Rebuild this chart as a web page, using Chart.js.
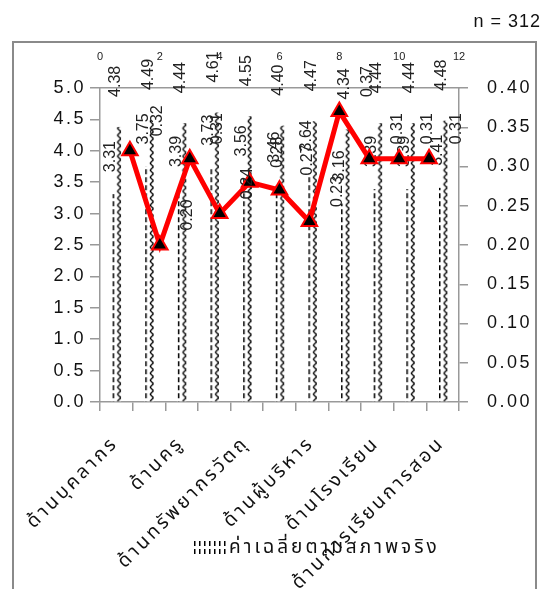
<!DOCTYPE html>
<html>
<head>
<meta charset="utf-8">
<script src="https://cdn.jsdelivr.net/npm/chart.js@4.4.1/dist/chart.umd.min.js"></script>
<style>
html,body{margin:0;padding:0;background:#fff;}
#wrap{width:553px;height:589px;position:relative;}
</style>
</head>
<body>
<div id="wrap"><canvas id="c"></canvas></div>
<script>
// ---- data ----
const categories = ['ด้านบุคลากร','', 'ด้านครู','', 'ด้านทรัพยากรวัตถุ','', 'ด้านผู้บริหาร','', 'ด้านโรงเรียน','', 'ด้านการเรียนการสอน'];
const actualMeans   = [3.31, 3.75, 3.39, 3.73, 3.56, 3.46, 3.64, 3.16, 3.39, 3.39, 3.41];
const expectedMeans = [4.38, 4.49, 4.44, 4.61, 4.55, 4.40, 4.47, 4.34, 4.44, 4.44, 4.48];
const pniValues     = [0.32, 0.20, 0.31, 0.24, 0.28, 0.27, 0.23, 0.37, 0.31, 0.31, 0.31];
const pniPositions  = [1, 2, 3, 4, 5, 6, 7, 8, 9, 10, 11];
const legendLabel = 'ค่าเฉลี่ยตามสภาพจริง';
const noteText = 'n = 312';

const THAI = "'Noto Sans Thai','Noto Sans Thai Looped','Noto Sans','DejaVu Sans',sans-serif";
const NUM = "'Liberation Sans','DejaVu Sans',sans-serif";

function dashPattern(){
  const c=document.createElement('canvas'); c.width=5; c.height=8;
  const g=c.getContext('2d'); g.fillStyle='#fff'; g.fillRect(0,0,5,8);
  g.fillStyle='#000'; g.fillRect(1,0,1.5,5);
  return g.createPattern(c,'repeat');
}
function crossPattern(){
  const c=document.createElement('canvas'); c.width=9; c.height=7;
  const g=c.getContext('2d'); g.fillStyle='#fff'; g.fillRect(0,0,9,7);
  g.strokeStyle='#000'; g.lineWidth=1.3;
  g.beginPath(); g.moveTo(1,0); g.lineTo(8,7); g.moveTo(8,0); g.lineTo(1,7); g.stroke();
  return g.createPattern(c,'repeat');
}
const dashFill = dashPattern();
const crossFill = crossPattern();

function spaced(scale, px){
  const orig = scale.drawLabels.bind(scale);
  scale.drawLabels = function(area){
    const ctx = scale.ctx; ctx.save(); ctx.letterSpacing = px; orig(area); ctx.restore();
  };
}

function drawRotated(ctx, txt, x, y, align){
  ctx.save();
  ctx.translate(x, y);
  ctx.rotate(-Math.PI/2);
  ctx.textAlign = align;
  ctx.fillText(txt, 0, 0);
  ctx.restore();
}

const labelPlugin = {
  id:'labels',
  afterLayout(chart){
    if (chart.$spaced) return;
    chart.$spaced = true;
    spaced(chart.scales.y, '2.5px');
    spaced(chart.scales.y1, '2.5px');
    spaced(chart.scales.x, '3px');
  },
  afterDatasetDraw(chart, args){
    const ctx = chart.ctx;
    const ds = chart.data.datasets[args.index];
    const meta = args.meta;
    ctx.save();
    if (ds.type !== 'line') {
      meta.data.forEach(el => {
        const p = el.getProps(['x','y','base','width'], true);
        const left = p.x - p.width/2;
        ctx.save();
        ctx.translate(left, p.base);
        ctx.fillStyle = ds.pattern;
        ctx.fillRect(0, p.y - p.base, p.width, p.base - p.y);
        ctx.restore();
      });
    } else {
      ctx.fillStyle = '#222';
      ctx.font = '16px ' + NUM;
      ctx.textBaseline = 'middle';
      meta.data.forEach((el, i) => {
        drawRotated(ctx, pniValues[i].toFixed(2), el.x + 28, el.y - 30, 'center');
      });
    }
    ctx.restore();
  },
  beforeDatasetDraw(chart, args){
    const ds = chart.data.datasets[args.index];
    if (ds.type !== 'line') return;
    // all bars are painted by now: write their value labels
    const ctx = chart.ctx;
    ctx.save();
    ctx.fillStyle = '#222';
    ctx.font = '16px ' + NUM;
    ctx.textBaseline = 'middle';
    chart.data.datasets.forEach((d, di) => {
      if (d.type === 'line') return;
      const off = d.isActual ? 22 : 30;
      chart.getDatasetMeta(di).data.forEach((el, i) => {
        drawRotated(ctx, d.data[i].toFixed(2), el.x - 3, el.y - off, 'left');
      });
    });
    ctx.restore();
  },
  afterDraw(chart){
    const ctx = chart.ctx;
    ctx.save();
    ctx.strokeStyle = '#8a8a8a'; ctx.lineWidth = 2;
    ctx.strokeRect(13, 42, 523, 600);
    ctx.fillStyle = '#111'; ctx.font = '18px ' + NUM;
    ctx.textAlign = 'right'; ctx.textBaseline = 'middle';
    ctx.letterSpacing = '1px';
    ctx.fillText(noteText, 541, 22);
    ctx.save(); ctx.translate(193, 541);
    ctx.fillStyle = dashFill;
    ctx.fillRect(0, 0, 33, 15);
    ctx.restore();
    ctx.fillStyle = '#111'; ctx.font = '19px ' + THAI;
    ctx.textAlign = 'left';
    ctx.letterSpacing = '3px';
    ctx.fillText(legendLabel, 229, 549);
    ctx.restore();
  }
};

new Chart(document.getElementById('c'), {
  type:'bar',
  data:{
    labels: categories,
    datasets:[
      { type:'line', label:'PNI', data: pniPositions.map((p,i)=>({x:p, y:pniValues[i]})),
        xAxisID:'xTop', yAxisID:'y1', order:0,
        borderColor:'#ff0000', borderWidth:5, tension:0,
        pointStyle:'triangle', pointRadius:9, pointBackgroundColor:'#000',
        pointBorderColor:'#ff0000', pointBorderWidth:2 },
      { label: legendLabel, data: actualMeans, backgroundColor:'rgba(0,0,0,0)', pattern: dashFill, isActual:true, borderWidth:0,
        xAxisID:'x', yAxisID:'y', order:1, categoryPercentage:0.58, barPercentage:1.0 },
      { label:'expected', data: expectedMeans, backgroundColor:'rgba(0,0,0,0)', pattern: crossFill, borderWidth:0,
        xAxisID:'x', yAxisID:'y', order:1, categoryPercentage:0.58, barPercentage:1.0 }
    ]
  },
  options:{
    responsive:true, maintainAspectRatio:false, animation:false, devicePixelRatio:1,
    layout:{padding:0},
    plugins:{legend:{display:false}, tooltip:{enabled:false}},
    scales:{
      x:{ type:'category', position:'bottom', offset:true,
        grid:{offset:true, drawOnChartArea:false, drawTicks:true, tickLength:9, color:'#999', lineWidth:1.5},
        border:{color:'#999', width:1.5},
        ticks:{autoSkip:false, minRotation:45, maxRotation:45, padding:22, color:'#111', font:{size:19, family:THAI}},
        afterFit(s){ s.height = 187; s.paddingLeft = 0; s.paddingRight = 0; } },
      xTop:{ type:'linear', position:'top', min:0, max:12, offset:false,
        grid:{display:true, drawOnChartArea:false, drawTicks:false, color:'#999'},
        border:{display:true, color:'#999', width:1.5},
        ticks:{stepSize:2, padding:24, color:'#222', font:{size:11, family:NUM}},
        afterFit(s){ s.height = 88; s.paddingLeft = 0; s.paddingRight = 0; } },
      y:{ position:'left', min:0, max:5,
        grid:{drawOnChartArea:false, tickLength:10, color:'#999', lineWidth:1.5},
        border:{color:'#999', width:1.5},
        ticks:{stepSize:0.5, padding:4, color:'#111', font:{size:18, family:NUM}, callback:v=>v.toFixed(1)},
        afterFit(s){ s.width = 100; s.paddingTop = 0; s.paddingBottom = 0; } },
      y1:{ position:'right', min:0, max:0.4,
        grid:{drawOnChartArea:false, tickLength:9, color:'#999', lineWidth:1.5},
        border:{color:'#999', width:1.5},
        ticks:{stepSize:0.05, padding:19, color:'#111', font:{size:18, family:NUM}, callback:v=>v.toFixed(2)},
        afterFit(s){ s.width = 94; s.paddingTop = 0; s.paddingBottom = 0; } }
    }
  },
  plugins:[labelPlugin]
});
</script>
</body>
</html>
